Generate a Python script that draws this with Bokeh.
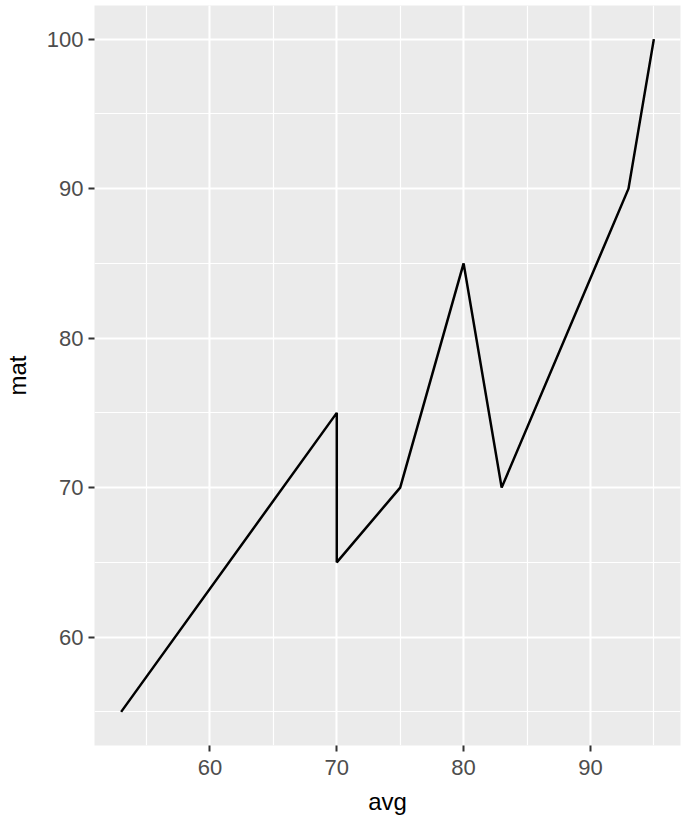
from bokeh.plotting import figure
from bokeh.models import SingleIntervalTicker, Range1d
from bokeh.embed import file_html
from bokeh.resources import INLINE

avg = [53, 70, 70, 75, 80, 83, 93, 95]
mat = [55, 75, 65, 70, 85, 70, 90, 100]

p = figure(width=682, height=818, output_backend="svg", toolbar_location=None,
           x_range=Range1d(50.9, 97.1), y_range=Range1d(52.75, 102.25),
           min_border_left=93, min_border_right=2, min_border_top=5, min_border_bottom=73)
p.background_fill_color = "#EBEBEB"
p.border_fill_color = "white"
p.outline_line_color = None

p.line(avg, mat, line_color="black", line_width=2.5)

for ax, lab in ((p.xaxis[0], "avg"), (p.yaxis[0], "mat")):
    ax.ticker = SingleIntervalTicker(interval=10, num_minor_ticks=2)
    ax.axis_label = lab
    ax.axis_line_color = None
    ax.major_tick_line_color = "#333333"
    ax.major_tick_line_width = 2
    ax.major_tick_out = 6
    ax.major_tick_in = 0
    ax.minor_tick_line_color = None
    ax.major_label_text_color = "#4D4D4D"
    ax.major_label_text_font = "Liberation Sans"
    ax.major_label_text_font_size = "22px"
    ax.axis_label_text_font = "Liberation Sans"
    ax.axis_label_text_font_size = "24px"
    ax.axis_label_text_font_style = "normal"
    ax.axis_label_text_color = "black"

p.xaxis.major_label_standoff = 8
p.xaxis.axis_label_standoff = 10
p.yaxis.major_label_standoff = 5
p.yaxis.axis_label_standoff = 13

for g in (p.xgrid[0], p.ygrid[0]):
    g.grid_line_color = "white"
    g.grid_line_width = 2
    g.minor_grid_line_color = "white"
    g.minor_grid_line_width = 1.2

open("out.html", "w").write(file_html(p, INLINE))
